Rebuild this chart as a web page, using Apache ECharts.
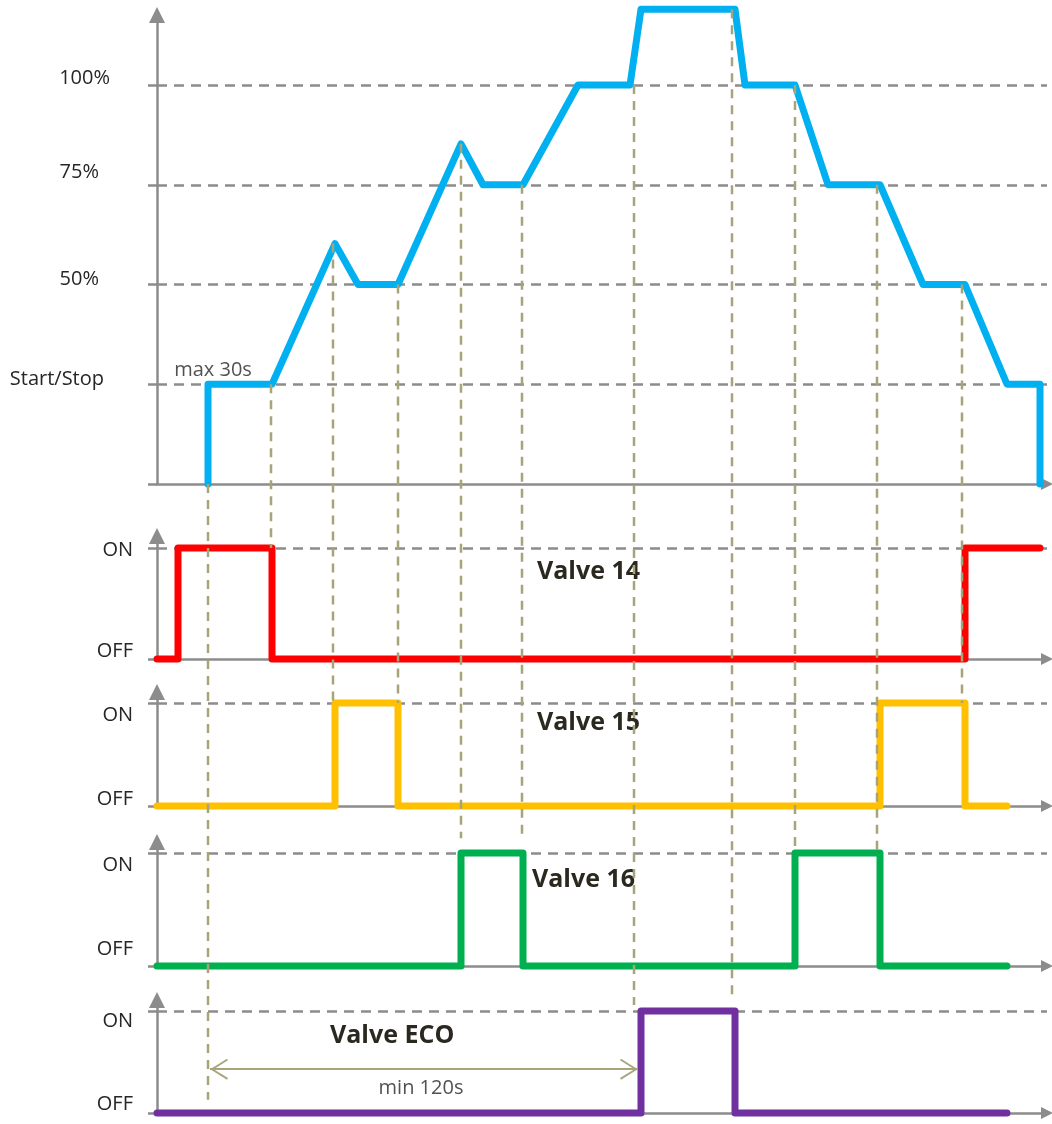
<!DOCTYPE html>
<html>
<head>
<meta charset="utf-8">
<title>Valve sequence</title>
<script src="https://cdn.jsdelivr.net/npm/echarts@6.0.0/dist/echarts.min.js"></script>
<style>
    html, body { margin: 0; padding: 0; background: #fff; }
    #main { width: 1052px; height: 1124px; }
</style>
</head>
<body>
<div id="main"></div>
<script>
// time runs left to right in arbitrary units
var loadT = [51, 51, 115, 178, 201, 241, 304, 326, 366, 421, 473, 484, 578, 588, 638, 671, 723, 766, 808, 850, 883, 883];
var loadV = [0, 1, 1, 2.41, 2, 2, 3.41, 3, 3, 4, 4, 4.76, 4.76, 4, 4, 3, 3, 2, 2, 1, 1, 0];
var loadLevels = ['', 'Start/Stop', '50%', '75%', '100%'];

// valve states: time of each change and the state from then on (0 = OFF, 1 = ON)
var valveNames = ['Valve 14', 'Valve 15', 'Valve 16', 'Valve ECO'];
var valve14T = [0, 21, 115, 808, 883];
var valve14S = [0, 1, 0, 1, 1];
var valve15T = [0, 178, 241, 723, 808, 850];
var valve15S = [0, 1, 0, 1, 0, 0];
var valve16T = [0, 304, 366, 638, 723, 850];
var valve16S = [0, 1, 0, 1, 0, 0];
var valveEcoT = [0, 484, 578, 850];
var valveEcoS = [0, 1, 0, 0];
var stateLabels = ['OFF', 'ON'];

// vertical guide lines: time, start [panel, value], end [panel, value]
var guideT = [51, 114, 176, 241, 304, 365, 477, 575, 638, 720, 805];
var guideFrom = [[0, 0], [0, 1], [0, 2.41], [0, 2], [0, 3.41], [0, 3], [0, 4], [0, 4.76], [0, 4], [0, 3], [0, 2]];
var guideTo = [[4, 0.13], [1, 1], [2, 1], [2, 1], [3, 1.13], [3, 1.17], [4, 1.06], [4, 1.12], [3, 1], [3, 1], [2, 1]];

// notes: panel, time, value, text
var noteText = ['max 30s', 'min 30s', 'min 120s'];
var notePanel = [0, 2, 4];
var noteT = [56, 757, 264];
var noteV = [1.14, 1.155, 0.245];

var ecoArrowT = [53, 481];
var ecoArrowV = 0.43;

var X_MAX = 890;

// layout of the five stacked panels (pixels)
var panels = [
    {base: 484, unit: 99.75, tip: 7},
    {base: 659, unit: 111, tip: 528},
    {base: 806, unit: 103, tip: 684},
    {base: 966, unit: 113, tip: 834},
    {base: 1113, unit: 102, tip: 992}
];
// label nudges for ON / OFF in each valve panel (positive = down)
var onShift = [2, 12, 12, 10];
var offShift = [-8, -7, -17, -9];
var titlePos = [[537, 558], [537, 709], [532, 866], [330, 1022]];

var AX = '#8c8c8c';
var GUIDE = '#a8a47a';
var TEXT = '#262626';
var FONT = 'Open Sans';
var FS = 20;
var valveColors = ['#ff0000', '#ffc000', '#00b050', '#7030a0'];
// open chevron, tip in the middle of its box so the tip sits on the line end
var CHEVRON = 'path://M9,-18 L9,-18 Z M9,0 L18,16.6 L16.6,17.6 L9,3.4 L1.4,17.6 L0,16.6 Z';
var HEAD = 'path://M0,15 L7.5,0 L15,15 Z';

function zip(a, b) {
    return a.map(function (v, i) { return [v, b[i]]; });
}

function shiftPad(d) {
    // pad label box so the text sits d pixels below (d > 0) or above the tick
    return d >= 0 ? [2 * d, 0, 0, 0] : [0, 0, -2 * d, 0];
}

function lbl(pad) {
    return {fontFamily: FONT, fontSize: FS, color: TEXT, padding: pad};
}

var valveT = [valve14T, valve15T, valve16T, valveEcoT];
var valveS = [valve14S, valve15S, valve16S, valveEcoS];

var myChart = echarts.init(document.getElementById('main'));

var grids = [], xAxes = [], yAxes = [], series = [], titles = [];

panels.forEach(function (p, i) {
    var ymax = (p.base - p.tip - 8) / p.unit;
    grids.push({
        left: 157,
        width: X_MAX,
        top: p.base - ymax * p.unit,
        height: ymax * p.unit,
        outerBoundsMode: 'none',
        containLabel: false
    });
    xAxes.push({
        gridIndex: i,
        type: 'value',
        min: 0,
        max: X_MAX,
        axisLine: {show: true, symbol: ['none', HEAD], symbolSize: [16, 12], lineStyle: {color: AX, width: 2.5}},
        axisTick: {show: false},
        axisLabel: {show: false},
        splitLine: {show: false}
    });
    var ticks = i === 0 ? [0, 1, 2, 3, 4] : [0, 1];
    var rich = {};
    var formatter;
    if (i === 0) {
        rich.l1 = lbl([0, 6, 10, 0]);
        rich.l2 = lbl([0, 11, 10, 0]);
        rich.l3 = lbl([0, 11, 24, 0]);
        rich.l4 = lbl([0, 0, 14, 0]);
        formatter = function (v) { return '{l' + v + '|' + loadLevels[v] + '}'; };
    } else {
        rich.l0 = lbl(shiftPad(offShift[i - 1]));
        rich.l1 = lbl(shiftPad(onShift[i - 1]));
        formatter = function (v) { return '{l' + v + '|' + stateLabels[v] + '}'; };
    }
    yAxes.push({
        gridIndex: i,
        type: 'value',
        min: 0,
        max: ymax,
        axisLine: {show: true, symbol: ['none', HEAD], symbolSize: [16, 16], lineStyle: {color: AX, width: 2.5}},
        axisTick: {show: true, customValues: ticks, length: 9, lineStyle: {color: AX, width: 2.5}},
        axisLabel: {
            show: true,
            customValues: i === 0 ? [1, 2, 3, 4] : [0, 1],
            margin: i === 0 ? 47 : 24,
            formatter: formatter,
            rich: rich
        },
        splitLine: {
            show: true,
            showMinLine: false,
            lineStyle: {color: AX, width: 2.5, type: [10, 7]}
        }
    });
});

series.push({
    name: 'load',
    type: 'line',
    xAxisIndex: 0,
    yAxisIndex: 0,
    data: zip(loadT, loadV),
    symbol: 'none',
    clip: false,
    lineStyle: {color: '#00b0f0', width: 7, cap: 'round', join: 'round'},
    z: 3
});

valveNames.forEach(function (name, k) {
    var s = {
        name: name,
        type: 'line',
        step: 'end',
        xAxisIndex: k + 1,
        yAxisIndex: k + 1,
        data: zip(valveT[k], valveS[k]),
        symbol: 'none',
        clip: false,
        lineStyle: {color: valveColors[k], width: 7, cap: 'round', join: 'round'},
        z: 3
    };
    if (k === 3) {
        s.markLine = {
            silent: true,
            symbol: [CHEVRON, CHEVRON],
            symbolSize: [21, 36],
            lineStyle: {color: GUIDE, width: 2, type: 'solid'},
            label: {show: false},
            emphasis: {disabled: true},
            data: [[{coord: [ecoArrowT[0], ecoArrowV]}, {coord: [ecoArrowT[1], ecoArrowV]}]]
        };
    }
    series.push(s);
    titles.push({
        text: name,
        left: titlePos[k][0],
        top: titlePos[k][1],
        padding: 0,
        textStyle: {fontFamily: FONT, fontSize: 25, fontWeight: 'bold', color: '#2b2820', lineHeight: 27}
    });
});

noteText.forEach(function (txt, i) {
    series.push({
        type: 'scatter',
        xAxisIndex: notePanel[i],
        yAxisIndex: notePanel[i],
        symbolSize: 0,
        silent: true,
        data: [[noteT[i], noteV[i]]],
        label: {
            show: true,
            position: 'inside',
            formatter: txt,
            fontFamily: FONT,
            fontSize: FS,
            color: TEXT
        },
        z: 4
    });
});

var option = {
    animation: false,
    backgroundColor: '#ffffff',
    title: titles,
    grid: grids,
    xAxis: xAxes,
    yAxis: yAxes,
    series: series
};

myChart.setOption(option);

// dashed guides run across panels, so place them through each panel's own scale
var guides = guideT.map(function (t, i) {
    var p0 = myChart.convertToPixel({gridIndex: guideFrom[i][0]}, [t, guideFrom[i][1]]);
    var p1 = myChart.convertToPixel({gridIndex: guideTo[i][0]}, [t, guideTo[i][1]]);
    return {
        type: 'line',
        silent: true,
        z: 50,
        shape: {x1: p0[0], y1: p0[1], x2: p1[0], y2: p1[1]},
        style: {stroke: GUIDE, lineWidth: 2.5, lineDash: [9, 7]}
    };
});
myChart.setOption({graphic: guides});
</script>
</body>
</html>
